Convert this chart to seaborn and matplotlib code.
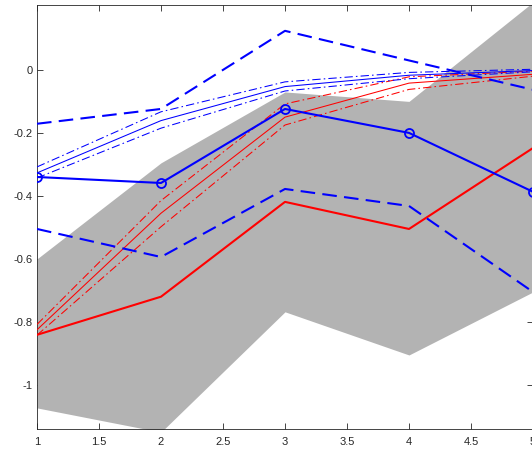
import matplotlib
matplotlib.use("Agg")
import matplotlib.pyplot as plt
import seaborn as sns
import pandas as pd

# Sample positions
x = [1, 2, 3, 4, 5]

# Shaded envelope
band_upper = [-0.600, -0.295, -0.070, -0.100, 0.215]
band_lower = [-1.073, -1.150, -0.768, -0.905, -0.705]

# Main series
red_main = [-0.841, -0.720, -0.419, -0.505, -0.248]
blue_main = [-0.340, -0.359, -0.124, -0.200, -0.387]

# Bounds of the blue series
blue_upper = [-0.171, -0.124, 0.124, 0.030, -0.063]
blue_lower = [-0.505, -0.594, -0.378, -0.432, -0.705]

# Thin reference curves (centre and spread)
blue_thin_mid = [-0.327, -0.161, -0.053, -0.017, -0.002]
blue_thin_hi = [-0.308, -0.133, -0.038, -0.008, 0.002]
blue_thin_lo = [-0.343, -0.185, -0.067, -0.028, -0.006]
red_thin_mid = [-0.825, -0.455, -0.150, -0.042, -0.014]
red_thin_hi = [-0.808, -0.415, -0.108, -0.022, -0.004]
red_thin_lo = [-0.842, -0.498, -0.175, -0.062, -0.020]

xticks = [1, 1.5, 2, 2.5, 3, 3.5, 4, 4.5, 5]
yticks = [-1, -0.8, -0.6, -0.4, -0.2, 0]

sns.set_style("ticks")
plt.rcParams["font.family"] = ["Liberation Sans", "DejaVu Sans"]

fig = plt.figure(figsize=(5.32, 4.51), dpi=100)
ax = fig.add_axes([37 / 532, 22 / 451, 496 / 532, 424 / 451])

ax.fill_between(x, band_lower, band_upper, color="#b3b3b3", linewidth=0, zorder=1)

dashdot = (0, (8, 3, 1.5, 3))
thin = 0.75

def draw(y, color, lw, ls, z, **kw):
    df = pd.DataFrame({"x": x, "y": y})
    sns.lineplot(data=df, x="x", y="y", ax=ax, color=color, linewidth=lw,
                 linestyle=ls, zorder=z, sort=False, **kw)

draw(red_thin_mid, "#ff0000", thin, "-", 3)
draw(red_thin_hi, "#ff0000", thin, dashdot, 3)
draw(red_thin_lo, "#ff0000", thin, dashdot, 3)
draw(blue_thin_mid, "#0000ff", thin, "-", 3)
draw(blue_thin_hi, "#0000ff", thin, dashdot, 3)
draw(blue_thin_lo, "#0000ff", thin, dashdot, 3)

draw(red_main, "#ff0000", 1.5, "-", 4)
draw(blue_upper, "#0000ff", 1.5, (0, (7, 3.5)), 4)
draw(blue_lower, "#0000ff", 1.5, (0, (7, 3.5)), 4)
draw(blue_main, "#0000ff", 1.5, "-", 5, marker="o", markersize=6.5,
     markerfacecolor="none", markeredgecolor="#0000ff", markeredgewidth=1.3)

ax.set_xlim(1, 5)
ax.set_ylim(-1.14, 0.206)
ax.set_xticks(xticks)
ax.set_xticklabels([f"{t:g}" for t in xticks])
ax.set_yticks(yticks)
ax.set_yticklabels([f"{t:g}" for t in yticks])
ax.set_xlabel("")
ax.set_ylabel("")

for side in ["top", "right", "bottom", "left"]:
    ax.spines[side].set_visible(True)
    ax.spines[side].set_color("#262626")
    ax.spines[side].set_linewidth(0.6)
ax.tick_params(direction="in", length=4, width=0.6, colors="#262626",
               labelsize=8, top=True, right=True)
ax.tick_params(axis="x", pad=6)
ax.tick_params(axis="y", pad=3)
ax.grid(False)
ax.set_facecolor("white")

fig.savefig("out.png", dpi=100)
